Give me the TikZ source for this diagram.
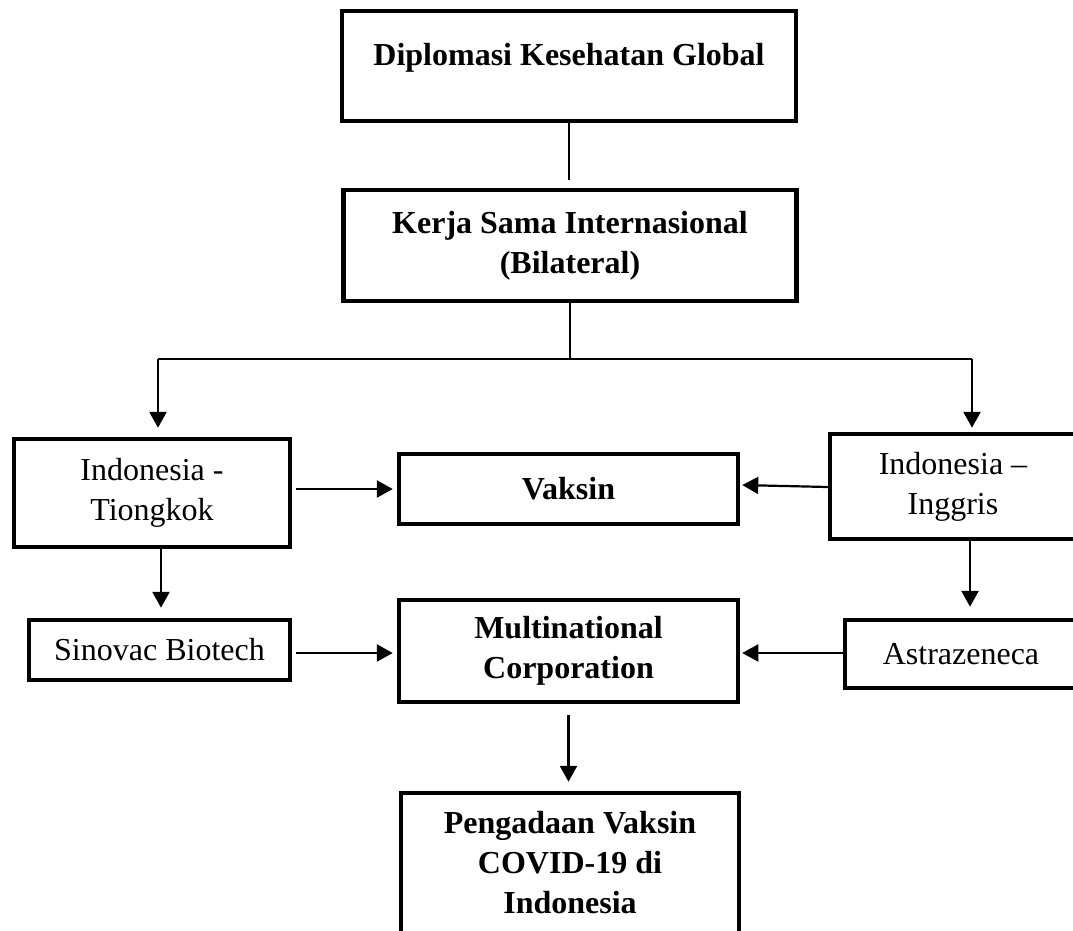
\documentclass[tikz,border=0pt]{standalone}
\usepackage{fontspec}
\setmainfont{Liberation Serif}
\usetikzlibrary{arrows.meta}
\tikzset{
  box/.style={draw, line width=4.5pt, inner sep=0pt, align=center, font=\fontsize{32}{40}\selectfont},
  bbox/.style={box, font=\fontsize{32}{40}\selectfont\bfseries},
  link/.style={line width=2.7pt},
  arrow/.style={link, -{Triangle[length=16pt,width=17pt]}}
}
\begin{document}
\begin{tikzpicture}[x=1pt, y=-1pt]
  \useasboundingbox (0,0) rectangle (1073,931);

  % top column
  \node[bbox, minimum width=454pt, minimum height=110pt, text depth=24pt] (diplomasi) at (569,66) {Diplomasi Kesehatan Global};
  \node[bbox, minimum width=453pt, minimum height=111pt] (kerjasama) at (570,245.5) {Kerja Sama Internasional\\(Bilateral)};

  % side boxes
  \node[box, minimum width=276pt, minimum height=108pt] (tiongkok) at (152,493) {Indonesia -\\Tiongkok};
  \node[box, minimum width=246pt, minimum height=105pt] (inggris) at (953,486.5) {Indonesia --\\Inggris};
  \node[box, minimum width=261pt, minimum height=60pt] (sinovac) at (159.5,650) {Sinovac Biotech};
  \node[box, minimum width=232pt, minimum height=68pt] (astra) at (961,654) {Astrazeneca};

  % middle column
  \node[bbox, minimum width=339pt, minimum height=70pt] (vaksin) at (568.5,489) {Vaksin};
  \node[bbox, minimum width=339pt, minimum height=102pt] (mnc) at (568.5,651) {Multinational\\Corporation};
  \node[bbox, minimum width=338pt, minimum height=140pt] (pengadaan) at (570,863) {Pengadaan Vaksin\\COVID-19 di\\Indonesia};

  \coordinate (split) at (570,359);
  \coordinate (cornerL) at (158,359);
  \coordinate (cornerR) at (972,359);

  \draw[link, shorten >=8pt] (diplomasi.south) -- (diplomasi.south |- kerjasama.north);
  \draw[link] (kerjasama.south) -- (split);
  \draw[link] (cornerL) -- (cornerR);
  \draw[arrow, shorten >=9pt] (cornerL) -- (cornerL |- tiongkok.north);
  \draw[arrow, shorten >=4pt] (cornerR) -- (cornerR |- inggris.north);

  \draw[arrow, shorten <=4pt, shorten >=4pt] (tiongkok.east |- vaksin) -- (vaksin.west);
  \draw[arrow, line width=2.2pt, shorten >=2pt] (inggris.west |- 0,487) -- (vaksin.east |- 0,485);
  \draw[arrow, shorten >=10pt] ([xshift=9pt]tiongkok.south) -- ([xshift=9pt]tiongkok.south |- sinovac.north);
  \draw[arrow, shorten >=11pt] ([xshift=17pt]inggris.south) -- ([xshift=17pt]inggris.south |- astra.north);
  \draw[arrow, shorten <=4pt, shorten >=4pt] (sinovac.east |- 0,653) -- (mnc.west |- 0,653);
  \draw[arrow, line width=2.2pt, shorten >=2pt] (astra.west |- 0,653) -- (mnc.east |- 0,653);
  \draw[arrow, shorten <=11pt, shorten >=9pt] (mnc.south) -- (mnc.south |- pengadaan.north);
\end{tikzpicture}
\end{document}
